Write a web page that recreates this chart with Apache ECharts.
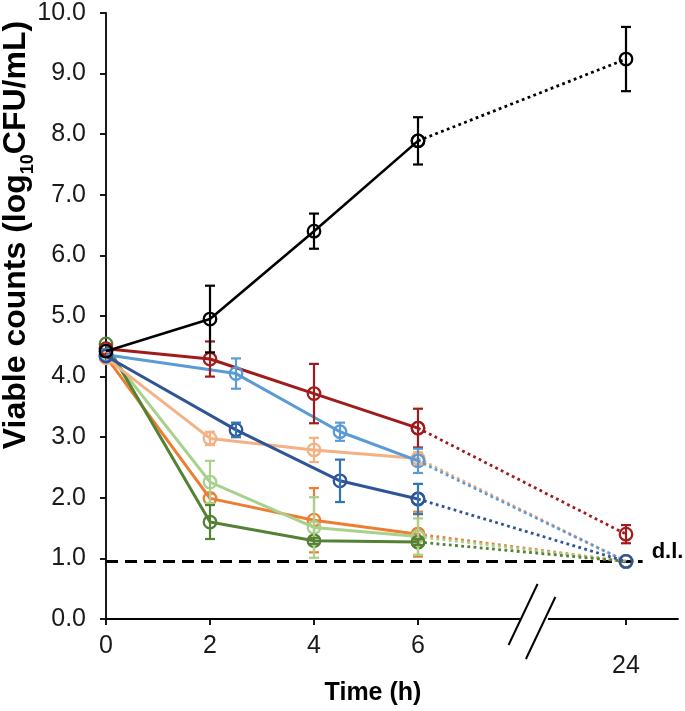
<!DOCTYPE html>
<html>
<head>
<meta charset="utf-8">
<script src="https://cdn.jsdelivr.net/npm/echarts@6/dist/echarts.min.js"></script>
<style>
html,body{margin:0;padding:0;background:#fff;}
#chart{width:685px;height:711px;}
</style>
</head>
<body>
<div id="chart"></div>
<script>
// ---------------- data ----------------
const hours        = [0, 2, 4, 6, 24];
const hoursShifted = [0, 2.5, 4.5, 6, 24];   // plotted slightly offset in the figure
const tickHours    = [0, 2, 4, 6, 24];
const yTicks       = [0, 1, 2, 3, 4, 5, 6, 7, 8, 9, 10];
const detectionLimit = 0.95;

const controlMean     = [4.42, 4.95, 6.40, 7.89, 9.24];
const controlSd       = [0, 0.55, 0.29, 0.39, 0.53];
const redMean         = [4.46, 4.29, 3.72, 3.15, 1.40];
const redSd           = [0, 0.29, 0.49, 0.32, 0.15];
const lightBlueMean   = [4.36, 4.05, 3.09, 2.61, 0.95];
const lightBlueSd     = [0, 0.25, 0.15, 0.20, 0];
const lightOrangeMean = [4.31, 2.98, 2.79, 2.65, 0.95];
const lightOrangeSd   = [0, 0.11, 0.20, 0.10, 0];
const darkBlueMean    = [4.34, 3.12, 2.28, 1.98, 0.95];
const darkBlueSd      = [0, 0.12, 0.35, 0.25, 0];
const lightGreenMean  = [4.45, 2.26, 1.51, 1.36, 0.95];
const lightGreenSd    = [0, 0.35, 0.50, 0.30, 0];
const orangeMean      = [4.33, 1.99, 1.63, 1.40, 0.95];
const orangeSd        = [0, 0.08, 0.53, 0.37, 0];
const greenMean       = [4.54, 1.60, 1.29, 1.27, 0.95];
const greenSd         = [0, 0.28, 0.05, 0.05, 0];

// ---------------- helpers ----------------
const FONT = 'Liberation Sans, Arial, Helvetica, sans-serif';
const BREAK_FROM = 8;        // hours beyond 8 are drawn after the axis break
const LATE_POS = 10;         // axis position where the 24 h tick sits
const axisPos = t => (t > BREAK_FROM ? LATE_POS : t);

const groups = [
  {name: 'Orange',       color: '#ED7D31', err: '#ED7D31', t: hours,        m: orangeMean,      s: orangeSd},
  {name: 'Light green',  color: '#A9D18E', err: '#A9D18E', t: hours,        m: lightGreenMean,  s: lightGreenSd},
  {name: 'Green',        color: '#548235', err: '#548235', t: hours,        m: greenMean,       s: greenSd},
  {name: 'Light orange', color: '#F4B183', err: '#F4B183', t: hours,        m: lightOrangeMean, s: lightOrangeSd},
  {name: 'Dark red',     color: '#A01C1C', err: '#A01C1C', t: hours,        m: redMean,         s: redSd},
  {name: 'Light blue',   color: '#5B9BD5', err: '#5B9BD5', t: hoursShifted, m: lightBlueMean,   s: lightBlueSd},
  {name: 'Dark blue',    color: '#2F5597', err: '#2E75B6', t: hoursShifted, m: darkBlueMean,    s: darkBlueSd},
  {name: 'Control',      color: '#000000', err: '#000000', t: hours,        m: controlMean,     s: controlSd}
];

const series = [];

// detection limit line
series.push({
  type: 'line', name: 'd.l.', silent: true, z: 1,
  data: [[0, detectionLimit], [LATE_POS + 0.32, detectionLimit]],
  symbol: 'none',
  lineStyle: {color: '#000', width: 3, type: [12, 7]},
  endLabel: {show: true, formatter: 'd.l.', fontFamily: FONT, fontWeight: 'bold', fontSize: 22, color: '#000', distance: 9, offset: [0, -9]}
});

groups.forEach((g, gi) => {
  const pts = g.t.map((t, i) => [axisPos(t), g.m[i]]);
  const sym = {
    symbol: 'circle', symbolSize: 12.5,
    itemStyle: {color: 'rgba(255,255,255,0)', borderColor: g.color, borderWidth: 2.3}
  };
  const lw = g.name === 'Control' ? 2.6 : 3;
  // dotted 6 h -> 24 h
  series.push(Object.assign({
    type: 'line', name: g.name + ' late', z: 2 + gi * 0.01, silent: true,
    data: pts.slice(3),
    lineStyle: {color: g.color, width: 2.8, type: [2.8, 3.4]}
  }, sym));
  // solid 0 -> 6 h
  series.push(Object.assign({
    type: 'line', name: g.name, z: 3 + gi * 0.01, silent: true,
    data: pts.slice(0, 4),
    lineStyle: {color: g.color, width: lw}
  }, sym));
  // error bars
  const ebData = [];
  g.t.forEach((t, i) => {
    if (g.s[i] > 0) ebData.push([axisPos(t), g.m[i] - g.s[i], g.m[i] + g.s[i]]);
  });
  series.push({
    type: 'custom', name: g.name + ' sd', z: 4 + gi * 0.01, silent: true,
    data: ebData,
    encode: {x: 0, y: [1, 2]},
    renderItem: (params, api) => {
      const x = api.value(0);
      const lo = api.coord([x, api.value(1)]);
      const hi = api.coord([x, api.value(2)]);
      const hw = 5;
      const st = {stroke: g.err, lineWidth: 2.2, fill: null};
      return {
        type: 'group',
        children: [
          {type: 'line', shape: {x1: hi[0], y1: hi[1], x2: lo[0], y2: lo[1]}, style: st},
          {type: 'line', shape: {x1: hi[0] - hw, y1: hi[1], x2: hi[0] + hw, y2: hi[1]}, style: st},
          {type: 'line', shape: {x1: lo[0] - hw, y1: lo[1], x2: lo[0] + hw, y2: lo[1]}, style: st}
        ]
      };
    }
  });
});

const chart = echarts.init(document.getElementById('chart'), null, {renderer: 'canvas'});
const tickPositions = tickHours.map(axisPos);

chart.setOption({
  animation: false,
  backgroundColor: '#fff',
  grid: {left: 106, right: 7, top: 13, bottom: 92, containLabel: false},
  xAxis: {
    type: 'value', min: 0, max: 11,
    axisLine: {show: true, lineStyle: {color: '#000', width: 1.8}},
    axisTick: {show: true, length: 6, customValues: tickPositions, lineStyle: {color: '#000', width: 1.8}},
    axisLabel: {
      show: true, customValues: tickPositions, margin: 15,
      fontFamily: FONT, fontSize: 25, color: '#1a1a1a',
      formatter: v => {
        const idx = tickPositions.indexOf(v);
        const h = idx >= 0 ? tickHours[idx] : v;
        return h > BREAK_FROM ? '{late|' + h + '}' : String(h);
      },
      rich: {late: {fontFamily: FONT, fontSize: 25, color: '#1a1a1a', padding: [20, 0, 0, 0]}}
    },
    splitLine: {show: false}
  },
  yAxis: {
    type: 'value', min: yTicks[0], max: yTicks[yTicks.length - 1], interval: 1,
    axisLine: {show: true, lineStyle: {color: '#000', width: 1.8}},
    axisTick: {show: true, length: 6, lineStyle: {color: '#000', width: 1.8}},
    axisLabel: {fontFamily: FONT, fontSize: 25, color: '#1a1a1a', margin: 20, formatter: v => v.toFixed(1)},
    splitLine: {show: false}
  },
  series: series
});

// titles and axis-break marks
const brk = chart.convertToPixel({gridIndex: 0}, [8.21, 0]);
const slope = 0.475; // dx per dy of the break slashes
function slash(cx, up, down) {
  return {
    type: 'line', z: 100,
    shape: {x1: cx + up * slope, y1: brk[1] - up, x2: cx - down * slope, y2: brk[1] + down},
    style: {stroke: '#000', lineWidth: 2}
  };
}
chart.setOption({
  graphic: [
    {type: 'rect', z: 99, shape: {x: brk[0] - 13, y: brk[1] - 3, width: 28, height: 6}, style: {fill: '#fff'}},
    slash(brk[0] - 12, 35, 26),
    slash(brk[0] + 12, 22, 40),
    {
      type: 'text', z: 100, x: 16, y: 235, rotation: Math.PI / 2,
      style: {
        text: '{b|Viable counts (log}{s|10}{b|CFU/mL)}',
        align: 'center', verticalAlign: 'middle',
        rich: {
          b: {fontFamily: FONT, fontWeight: 'bold', fontSize: 32, lineHeight: 42, verticalAlign: 'middle', fill: '#000'},
          s: {fontFamily: FONT, fontWeight: 'bold', fontSize: 18, lineHeight: 18, verticalAlign: 'bottom', fill: '#000'}
        }
      }
    },
    {
      type: 'text', z: 100, x: 373, y: 693,
      style: {text: 'Time (h)', fontFamily: FONT, fontWeight: 'bold', fontSize: 25, fill: '#000', align: 'center', verticalAlign: 'middle'}
    }
  ]
});
</script>
</body>
</html>
